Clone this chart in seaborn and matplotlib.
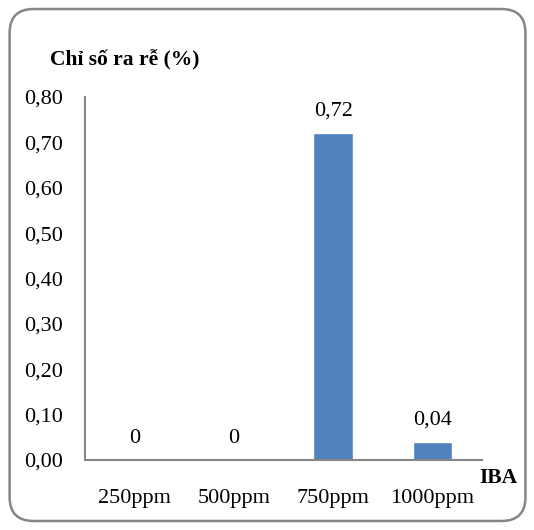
import matplotlib
matplotlib.use('Agg')
import matplotlib.pyplot as plt
import seaborn as sns
import pandas as pd
from matplotlib.patches import FancyBboxPatch

categories = ['250ppm', '500ppm', '750ppm', '1000ppm']
values = [0, 0, 0.72, 0.04]
value_labels = ['0', '0', '0,72', '0,04']
yticks = [0.0, 0.1, 0.2, 0.3, 0.4, 0.5, 0.6, 0.7, 0.8]

sns.set_style('white')
plt.rcParams['font.family'] = ['Liberation Serif', 'DejaVu Serif']
plt.rcParams['text.color'] = 'black'
plt.rcParams['xtick.color'] = 'black'
plt.rcParams['ytick.color'] = 'black'

df = pd.DataFrame({'IBA': categories, 'val': values})

fig = plt.figure(figsize=(5.34, 5.30), dpi=100)
ax = fig.add_axes([0.159, 0.132, 0.744, 0.685])

sns.barplot(data=df, x='IBA', y='val', color='#4F81BD', width=0.4,
            saturation=1, ax=ax)

for i, (v, lab) in enumerate(zip(values, value_labels)):
    ax.annotate(lab, (i, v), xytext=(0, 9), textcoords='offset points',
                ha='center', va='bottom', fontsize=16, color='black')

ax.set_ylim(0, 0.8)
ax.set_yticks(yticks)
ax.set_yticklabels([('%.2f' % t).replace('.', ',') for t in yticks], fontsize=16)
ax.set_xticks(range(len(categories)))
ax.set_xticklabels(categories, fontsize=16)
ax.tick_params(axis='y', length=0, pad=16, colors='black')
ax.tick_params(axis='x', length=0, pad=21, colors='black')
ax.set_xlabel('')
ax.set_ylabel('')

for s in ['top', 'right']:
    ax.spines[s].set_visible(False)
for s in ['left', 'bottom']:
    ax.spines[s].set_color('#868686')
    ax.spines[s].set_linewidth(1.5)

fig.text(0.094, 0.887, 'Chỉ số ra rễ (%)', fontsize=15.5, fontweight='bold',
         ha='left', va='center', color='black')
fig.text(0.898, 0.098, 'IBA', fontsize=15.5, fontweight='bold',
         ha='left', va='center', color='black')

border = FancyBboxPatch((0.018, 0.017), 0.966, 0.966,
                        boxstyle='round,pad=0,rounding_size=0.045',
                        transform=fig.transFigure, fill=False,
                        edgecolor='#868686', linewidth=1.8)
fig.patches.append(border)

fig.savefig('out.png', dpi=100)
